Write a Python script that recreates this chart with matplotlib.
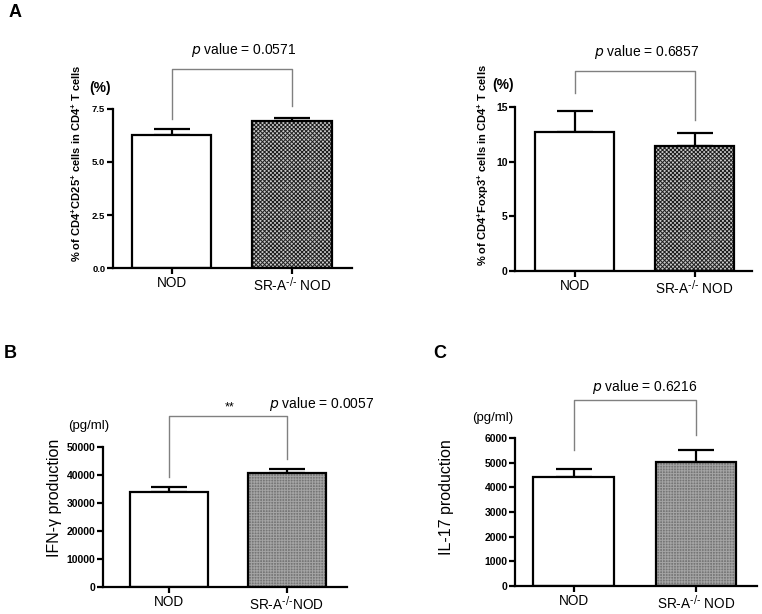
import numpy as np
import matplotlib
matplotlib.use('Agg')
import matplotlib.pyplot as plt

plt.rcParams['font.family'] = ['Liberation Sans', 'DejaVu Sans']
plt.rcParams['mathtext.default'] = 'regular'
plt.rcParams['hatch.linewidth'] = 0.7

groups = ['NOD', r'SR-A$^{\text{-/-}}$ NOD']
groups_b = ['NOD', r'SR-A$^{\text{-/-}}$NOD']

cd25_mean = [6.25, 6.93]
cd25_err = [0.30, 0.14]
foxp3_mean = [12.7, 11.47]
foxp3_err = [1.95, 1.13]
ifng_mean = [34000, 40800]
ifng_err = [1700, 1430]
il17_mean = [4420, 5010]
il17_err = [330, 490]

p_texts = ['0.0571', '0.6857', '0.0057', '0.6216']

fig = plt.figure(figsize=(7.62, 6.14), dpi=100)

# axes rects: left, bottom, width, height
ax_a1 = fig.add_axes([0.1483, 0.5635, 0.3136, 0.259])
ax_a2 = fig.add_axes([0.6759, 0.5586, 0.311, 0.267])
ax_b = fig.add_axes([0.1352, 0.044, 0.320, 0.228])
ax_c = fig.add_axes([0.6759, 0.0456, 0.3176, 0.241])


def draw_bars(ax, means, errs, labels, xlim, ylim, yticks, ticklabels,
              fill, hatch, hatch_col, tick_fs):
    x = np.arange(len(means))
    # white bar, then patterned bar
    ax.bar(x[0], means[0], width=0.66, color='white', edgecolor='black',
           linewidth=1.6, zorder=2)
    ax.bar(x[1], means[1], width=0.66, color=fill, edgecolor=hatch_col,
           hatch=hatch, linewidth=0, zorder=2)
    ax.bar(x[1], means[1], width=0.66, color='none', edgecolor='black',
           linewidth=1.6, zorder=3)
    ax.errorbar(x, means, yerr=[np.zeros(len(errs)), errs], fmt='none',
                ecolor='black', elinewidth=1.6, capsize=13, capthick=1.6,
                zorder=1)
    ax.set_xlim(*xlim)
    ax.set_ylim(*ylim)
    ax.set_yticks(yticks)
    ax.set_yticklabels(ticklabels, fontsize=tick_fs, fontweight='bold')
    ax.set_xticks(x)
    ax.set_xticklabels(labels, fontsize=9.8)
    for s in ['top', 'right']:
        ax.spines[s].set_visible(False)
    for s in ['left', 'bottom']:
        ax.spines[s].set_linewidth(1.6)
    ax.tick_params(axis='both', direction='out', length=4, width=1.6, pad=1.5)


def bracket(ax, top, left_end, right_end):
    ax.plot([0, 0, 1, 1], [left_end, top, top, right_end], color='#808080',
            linewidth=1.0, clip_on=False, zorder=1)


# Panel A left
draw_bars(ax_a1, cd25_mean, cd25_err, groups, (-0.49, 1.5), (0, 7.5),
          [0, 2.5, 5.0, 7.5], ['0.0', '2.5', '5.0', '7.5'],
          '#c8c8c8', 'xxxxxxxx', '#1e1e1e', 6.8)
bracket(ax_a1, 9.39, 7.03, 7.64)
ax_a1.text(0.6, 10.28, r'$\it{p}$ value = ' + p_texts[0], ha='center',
           va='center', fontsize=10)
ax_a1.set_ylabel('% of CD4$^{+}$CD25$^{+}$ cells in CD4$^{+}$ T cells',
                 fontsize=8, fontweight='bold')
ax_a1.yaxis.set_label_coords(-0.125, 0.66)

# Panel A right
draw_bars(ax_a2, foxp3_mean, foxp3_err, groups, (-0.5, 1.48), (0, 15),
          [0, 5, 10, 15], ['0', '5', '10', '15'],
          '#c8c8c8', 'xxxxxxxx', '#1e1e1e', 7.5)
bracket(ax_a2, 18.3, 16.3, 13.8)
ax_a2.text(0.6, 20.0, r'$\it{p}$ value = ' + p_texts[1], ha='center',
           va='center', fontsize=10)
ax_a2.set_ylabel('% of CD4$^{+}$Foxp3$^{+}$ cells in CD4$^{+}$ T cells',
                 fontsize=8, fontweight='bold')
ax_a2.yaxis.set_label_coords(-0.10, 0.646)

# Panel B
draw_bars(ax_b, ifng_mean, ifng_err, groups_b, (-0.555, 1.51), (0, 50000),
          [0, 10000, 20000, 30000, 40000, 50000],
          ['0', '10000', '20000', '30000', '40000', '50000'],
          '#767676', '++++++', '#a4a4a4', 7.5)
bracket(ax_b, 61070, 39290, 45710)
ax_b.text(0.52, 64290, '**', ha='center', va='center', fontsize=9)
ax_b.text(0.85, 65360, r'$\it{p}$ value = ' + p_texts[2], ha='left',
          va='center', fontsize=10)
ax_b.set_ylabel('IFN-γ production', fontsize=11.5)
ax_b.yaxis.set_label_coords(-0.168, 0.636)

# Panel C
draw_bars(ax_c, il17_mean, il17_err, groups, (-0.48, 1.5), (0, 6000),
          [0, 1000, 2000, 3000, 4000, 5000, 6000],
          ['0', '1000', '2000', '3000', '4000', '5000', '6000'],
          '#767676', '++++++', '#a4a4a4', 7.5)
bracket(ax_c, 7540, 5510, 6120)
ax_c.text(0.58, 8070, r'$\it{p}$ value = ' + p_texts[3], ha='center',
          va='center', fontsize=10)
ax_c.set_ylabel('IL-17 production', fontsize=11.5)
ax_c.yaxis.set_label_coords(-0.252, 0.60)

# unit labels and panel letters
fig.text(0.131, 0.857, '(%)', ha='center', va='center', fontsize=10,
         fontweight='bold')
fig.text(0.660, 0.862, '(%)', ha='center', va='center', fontsize=10,
         fontweight='bold')
fig.text(0.117, 0.306, '(pg/ml)', ha='center', va='center', fontsize=9.5)
fig.text(0.647, 0.319, '(pg/ml)', ha='center', va='center', fontsize=9.5)

fig.text(0.02, 0.979, 'A', ha='center', va='center', fontsize=13,
         fontweight='bold')
fig.text(0.013, 0.425, 'B', ha='center', va='center', fontsize=13,
         fontweight='bold')
fig.text(0.577, 0.425, 'C', ha='center', va='center', fontsize=13,
         fontweight='bold')

plt.savefig('out.png', dpi=100)
